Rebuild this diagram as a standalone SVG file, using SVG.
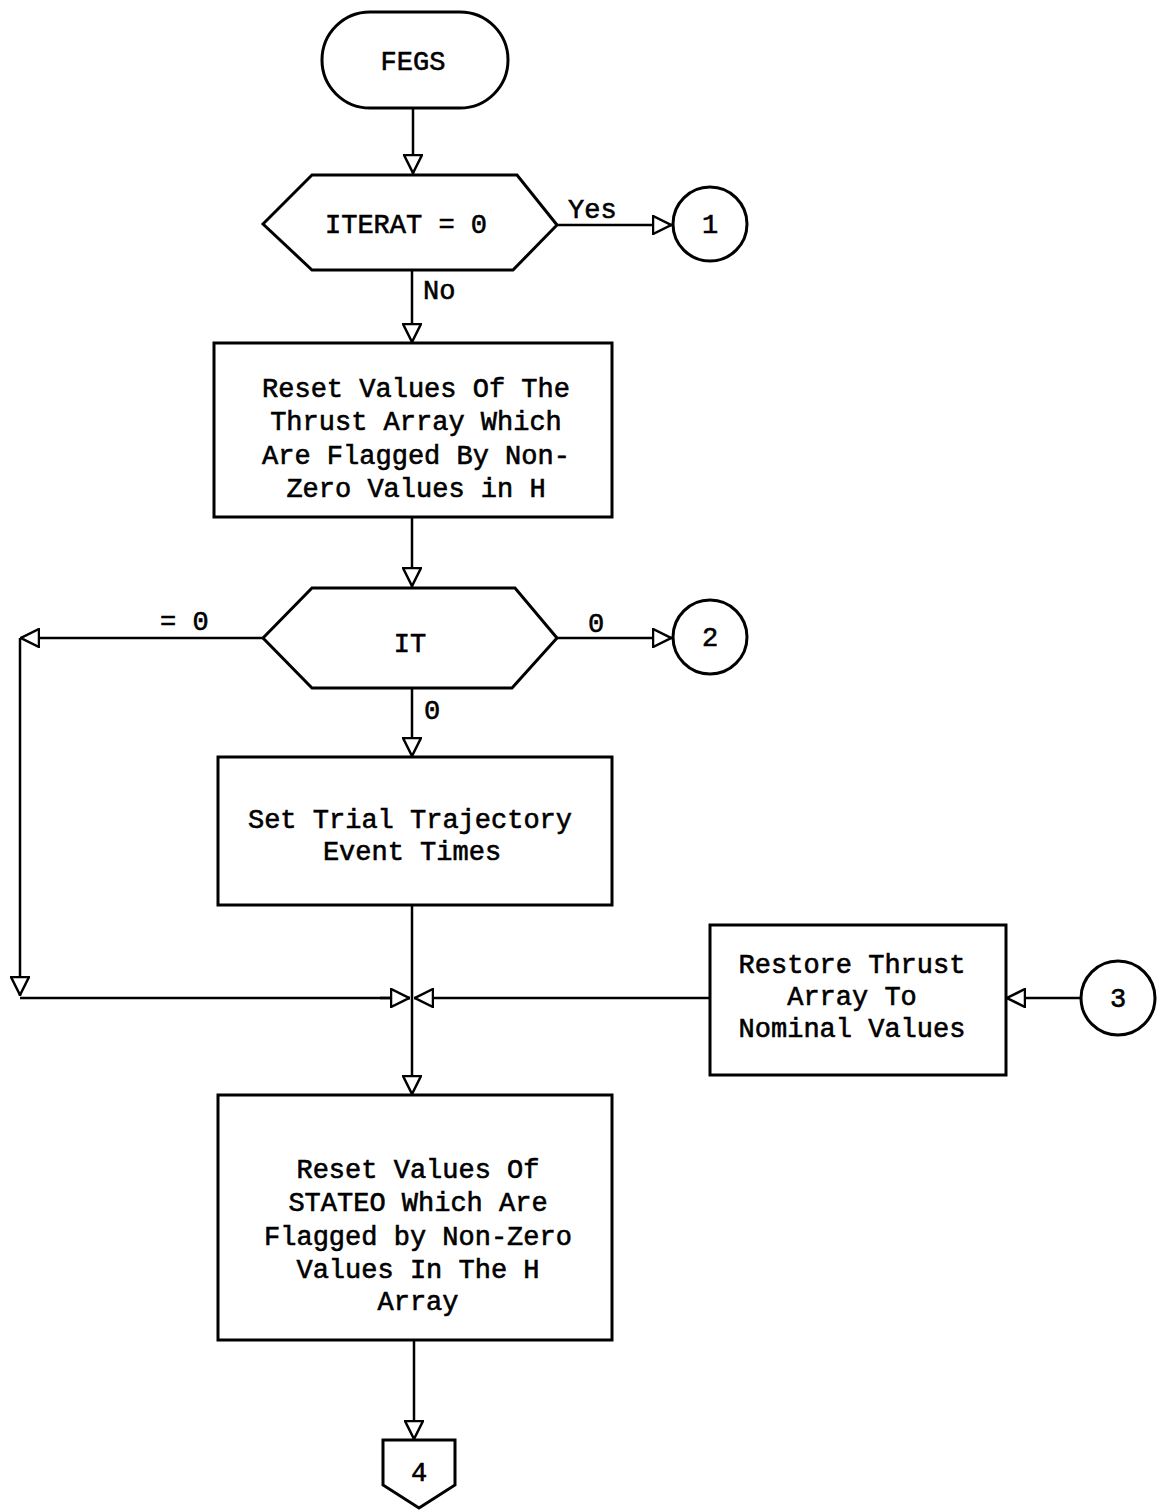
<svg xmlns="http://www.w3.org/2000/svg" width="1161" height="1511" viewBox="0 0 1161 1511">
<defs>
<style>
.s{fill:#fff;stroke:#000;stroke-width:3}
.c{fill:none;stroke:#000;stroke-width:2.5}
.t{font-family:"Liberation Mono","Courier New",monospace;font-size:27px;fill:#000;stroke:#000;stroke-width:0.6;text-anchor:middle}
.l{font-family:"Liberation Mono","Courier New",monospace;font-size:27px;fill:#000;stroke:#000;stroke-width:0.6}
</style>
<marker id="a" viewBox="0 0 20 20" refX="20" refY="10" markerWidth="20" markerHeight="20" markerUnits="userSpaceOnUse" orient="auto">
<path d="M1,1 L19,10 L1,19 Z" fill="#fff" stroke="#000" stroke-width="2.5"/>
</marker>
</defs>
<rect width="1161" height="1511" fill="#fff"/>
<g id="connectors">
<path class="c" d="M413,108 V174" marker-end="url(#a)"/>
<path class="c" d="M557,225 H672" marker-end="url(#a)"/>
<path class="c" d="M412,270 V343" marker-end="url(#a)"/>
<path class="c" d="M412,517 V587" marker-end="url(#a)"/>
<path class="c" d="M557,638 H672" marker-end="url(#a)"/>
<path class="c" d="M263,638 H20" marker-end="url(#a)"/>
<path class="c" d="M20,638 V996" marker-end="url(#a)"/>
<path class="c" d="M20,998 H410"/>
<path class="c" d="M380,998 H410" marker-end="url(#a)"/>
<path class="c" d="M412,688 V757" marker-end="url(#a)"/>
<path class="c" d="M412,905 V1095" marker-end="url(#a)"/>
<path class="c" d="M710,998 H414" marker-end="url(#a)"/>
<path class="c" d="M1080,998 H1006" marker-end="url(#a)"/>
<path class="c" d="M414,1340 V1440" marker-end="url(#a)"/>
<text class="l" x="568" y="218">Yes</text>
<text class="l" x="423" y="299">No</text>
<text class="l" x="160" y="630">= 0</text>
<text class="l" x="588" y="632">0</text>
<text class="l" x="424" y="719">0</text>
</g>
<g id="fegs">
<rect class="s" x="322" y="12" width="186" height="96" rx="48"/>
<text class="t" x="413" y="70">FEGS</text>
</g>
<g id="iterat">
<polygon class="s" points="263,224 312,175 517,175 557,225 513,270 312,270"/>
<text class="t" x="406" y="233">ITERAT = 0</text>
</g>
<g id="c1">
<circle class="s" cx="710" cy="224" r="37"/>
<text class="t" x="710" y="233">1</text>
</g>
<g id="reset-thrust">
<rect class="s" x="214" y="343" width="398" height="174"/>
<text class="t" x="416" y="397">Reset Values Of The</text>
<text class="t" x="416" y="430">Thrust Array Which</text>
<text class="t" x="416" y="464">Are Flagged By Non-</text>
<text class="t" x="416" y="497">Zero Values in H</text>
</g>
<g id="it">
<polygon class="s" points="263,638 312,588 515,588 557,638 512,688 312,688"/>
<text class="t" x="410" y="652">IT</text>
</g>
<g id="c2">
<circle class="s" cx="710" cy="637" r="37"/>
<text class="t" x="710" y="646">2</text>
</g>
<g id="set-trial">
<rect class="s" x="218" y="757" width="394" height="148"/>
<text class="t" x="410" y="828">Set Trial Trajectory</text>
<text class="t" x="412" y="860">Event Times</text>
</g>
<g id="restore">
<rect class="s" x="710" y="925" width="296" height="150"/>
<text class="t" x="852" y="973">Restore Thrust</text>
<text class="t" x="852" y="1005">Array To</text>
<text class="t" x="852" y="1037">Nominal Values</text>
</g>
<g id="c3">
<circle class="s" cx="1118" cy="998" r="37"/>
<text class="t" x="1118" y="1007">3</text>
</g>
<g id="reset-stateo">
<rect class="s" x="218" y="1095" width="394" height="245"/>
<text class="t" x="418" y="1178">Reset Values Of</text>
<text class="t" x="418" y="1211">STATEO Which Are</text>
<text class="t" x="418" y="1245">Flagged by Non-Zero</text>
<text class="t" x="418" y="1278">Values In The H</text>
<text class="t" x="418" y="1310">Array</text>
</g>
<g id="c4">
<polygon class="s" points="383,1440 455,1440 455,1485 419,1508 383,1485"/>
<text class="t" x="419" y="1481">4</text>
</g>
</svg>
